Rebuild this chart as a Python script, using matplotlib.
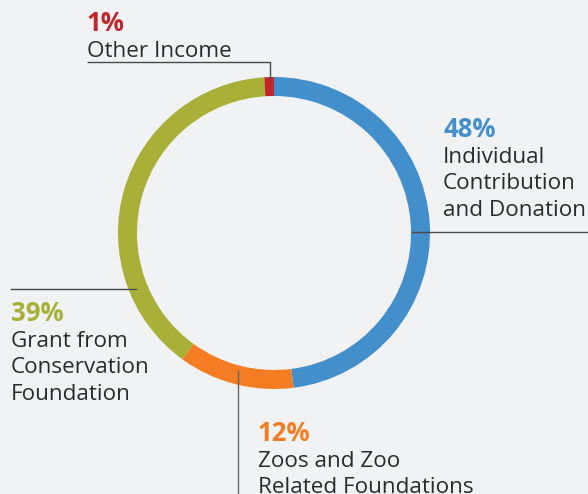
import matplotlib
matplotlib.use("Agg")
import matplotlib.pyplot as plt

# Data
categories = ["Individual\nContribution\nand Donation", "Zoos and Zoo\nRelated Foundations",
              "Grant from\nConservation\nFoundation", "Other Income"]
values = [48, 12, 39, 1]
pct_labels = ["48%", "12%", "39%", "1%"]
colors = ["#438fcc", "#f47c22", "#a8b038", "#c0272d"]

W, H = 588, 494
BG = "#f1f2f4"
TXT = "#2b2b2b"
LINE = "#4a4a4a"

plt.rcParams['font.family'] = ['Open Sans', 'DejaVu Sans']

fig = plt.figure(figsize=(W / 100, H / 100), dpi=100, facecolor=BG)
ax = fig.add_axes([0, 0, 1, 1])
ax.set_facecolor(BG)

def Y(py):
    return H - py

cx, cy, R, ring = 274, 233, 156, 19
ax.pie(values, colors=colors, startangle=90, counterclock=False,
       center=(cx, Y(cy)), radius=R,
       wedgeprops=dict(width=ring, linewidth=0))
ax.set_xlim(0, W)
ax.set_ylim(0, H)
ax.set_aspect('auto')
ax.axis('off')

lw = 1.0
# leader lines
ax.plot([87, 270, 270], [Y(62), Y(62), Y(79)], color=LINE, lw=lw, solid_capstyle='butt')
ax.plot([412, 588], [Y(232), Y(232)], color=LINE, lw=lw)
ax.plot([11, 136], [Y(289), Y(289)], color=LINE, lw=lw)
ax.plot([238, 238], [Y(371), Y(494)], color="#666666", lw=lw)

fs = 16.2
fs_pct = 18.5
lh = 26.7

def label(x, base_y, pct, text, color):
    ax.text(x, Y(base_y), pct, color=color, fontsize=fs_pct, fontweight='bold',
            ha='left', va='baseline')
    for i, line in enumerate(text.split("\n")):
        ax.text(x, Y(base_y + lh * (i + 1) - 1), line, color=TXT, fontsize=fs,
                ha='left', va='baseline')

label(443, 137, pct_labels[0], categories[0], colors[0])
label(258, 441, pct_labels[1], categories[1], colors[1])
label(11, 321, pct_labels[2], categories[2], colors[2])
label(87, 31, pct_labels[3], categories[3], colors[3])

fig.savefig("out.png", dpi=100, facecolor=BG)
